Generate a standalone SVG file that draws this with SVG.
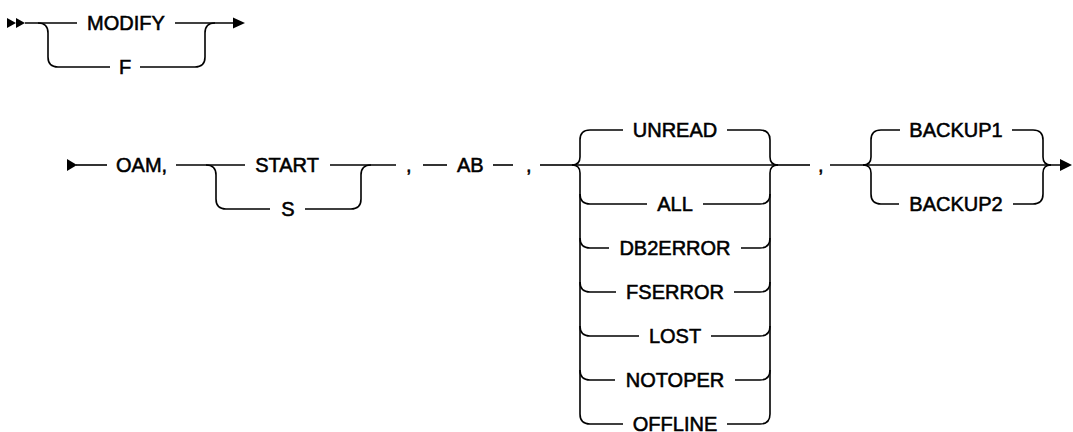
<svg xmlns="http://www.w3.org/2000/svg" width="1073" height="432" viewBox="0 0 1073 432">
  <style>
    .rail { fill: none; stroke: #000; stroke-width: 1.6; stroke-linecap: butt; }
    .head { fill: #000; stroke: none; }
    .kw { font-family: "Liberation Sans", Arial, sans-serif; font-size: 20px; fill: #000; stroke: #000; stroke-width: 0.55; }
    .mid { text-anchor: middle; }
  </style>

  <!-- connectors: rails, branch curves and arrowheads -->
  <g id="connectors">
    <!-- row 1: MODIFY | F -->
    <polygon class="head" points="7,18 16,23 7,28"/>
    <polygon class="head" points="16,18 25,23 16,28"/>
    <path class="rail" d="M25,23 H77"/>
    <path class="rail" d="M175,23 H235"/>
    <polygon class="head" points="233,17.5 245,23 233,28.5"/>
    <path class="rail" d="M38,23 Q48,23 48,33 V57 Q48,67 58,67 H110"/>
    <path class="rail" d="M140,67 H195 Q205,67 205,57 V33 Q205,23 215,23"/>

    <!-- row 2: OAM, START | S -->
    <polygon class="head" points="67,159 77,165 67,171"/>
    <path class="rail" d="M76,165 H107"/>
    <path class="rail" d="M176,165 H245"/>
    <path class="rail" d="M330,165 H396"/>
    <path class="rail" d="M206,165 Q216,165 216,175 V199 Q216,209 226,209 H270"/>
    <path class="rail" d="M305,209 H351 Q361,209 361,199 V175 Q361,165 371,165"/>

    <!-- , AB , -->
    <path class="rail" d="M423,165 H447"/>
    <path class="rail" d="M493,165 H513"/>
    <path class="rail" d="M540,165 H572"/>

    <!-- choice block: UNREAD ... OFFLINE -->
    <path class="rail" d="M572,165 H778"/>
    <path class="rail" d="M572,165 Q580,165 580,157 V140 Q580,130 590,130 H623"/>
    <path class="rail" d="M572,165 Q580,165 580,173 V414 Q580,424 590,424 H623"/>
    <path class="rail" d="M727,130 H760 Q770,130 770,140 V157 Q770,165 778,165"/>
    <path class="rail" d="M778,165 Q770,165 770,173 V414 Q770,424 760,424 H727"/>
    <!-- ALL -->
    <path class="rail" d="M580,194 Q580,204 590,204 H647"/>
    <path class="rail" d="M703,204 H760 Q770,204 770,194"/>
    <!-- DB2ERROR -->
    <path class="rail" d="M580,238 Q580,248 590,248 H609"/>
    <path class="rail" d="M741,248 H760 Q770,248 770,238"/>
    <!-- FSERROR -->
    <path class="rail" d="M580,282 Q580,292 590,292 H616"/>
    <path class="rail" d="M734,292 H760 Q770,292 770,282"/>
    <!-- LOST -->
    <path class="rail" d="M580,326 Q580,336 590,336 H639"/>
    <path class="rail" d="M711,336 H760 Q770,336 770,326"/>
    <!-- NOTOPER -->
    <path class="rail" d="M580,370 Q580,380 590,380 H615"/>
    <path class="rail" d="M735,380 H760 Q770,380 770,370"/>

    <!-- , BACKUP1 | BACKUP2 -->
    <path class="rail" d="M778,165 H810"/>
    <path class="rail" d="M830,165 H1062"/>
    <path class="rail" d="M863,165 Q871,165 871,157 V140 Q871,130 881,130 H900"/>
    <path class="rail" d="M1012,130 H1033 Q1043,130 1043,140 V157 Q1043,165 1051,165"/>
    <path class="rail" d="M863,165 Q871,165 871,173 V194 Q871,204 881,204 H899"/>
    <path class="rail" d="M1013,204 H1033 Q1043,204 1043,194 V173 Q1043,165 1051,165"/>
    <polygon class="head" points="1060,159 1072,165 1060,171"/>
  </g>

  <!-- keywords -->
  <g id="kw-modify"><text class="kw mid" x="126" y="30">MODIFY</text></g>
  <g id="kw-f"><text class="kw mid" x="125" y="74">F</text></g>
  <g id="kw-oam"><text class="kw" x="116" y="172">OAM,</text></g>
  <g id="kw-start"><text class="kw mid" x="287" y="172">START</text></g>
  <g id="kw-s"><text class="kw mid" x="288" y="216">S</text></g>
  <g id="sep-1"><text class="kw" x="406" y="172">,</text></g>
  <g id="kw-ab"><text class="kw" x="457" y="172">AB</text></g>
  <g id="sep-2"><text class="kw" x="526" y="172">,</text></g>
  <g id="kw-unread"><text class="kw mid" x="675" y="137">UNREAD</text></g>
  <g id="kw-all"><text class="kw mid" x="675" y="211">ALL</text></g>
  <g id="kw-db2error"><text class="kw mid" x="675" y="255">DB2ERROR</text></g>
  <g id="kw-fserror"><text class="kw mid" x="675" y="299">FSERROR</text></g>
  <g id="kw-lost"><text class="kw mid" x="675" y="343">LOST</text></g>
  <g id="kw-notoper"><text class="kw mid" x="675" y="387">NOTOPER</text></g>
  <g id="kw-offline"><text class="kw mid" x="675" y="431">OFFLINE</text></g>
  <g id="sep-3"><text class="kw" x="818" y="172">,</text></g>
  <g id="kw-backup1"><text class="kw mid" x="956" y="137">BACKUP1</text></g>
  <g id="kw-backup2"><text class="kw mid" x="956" y="211">BACKUP2</text></g>
</svg>
